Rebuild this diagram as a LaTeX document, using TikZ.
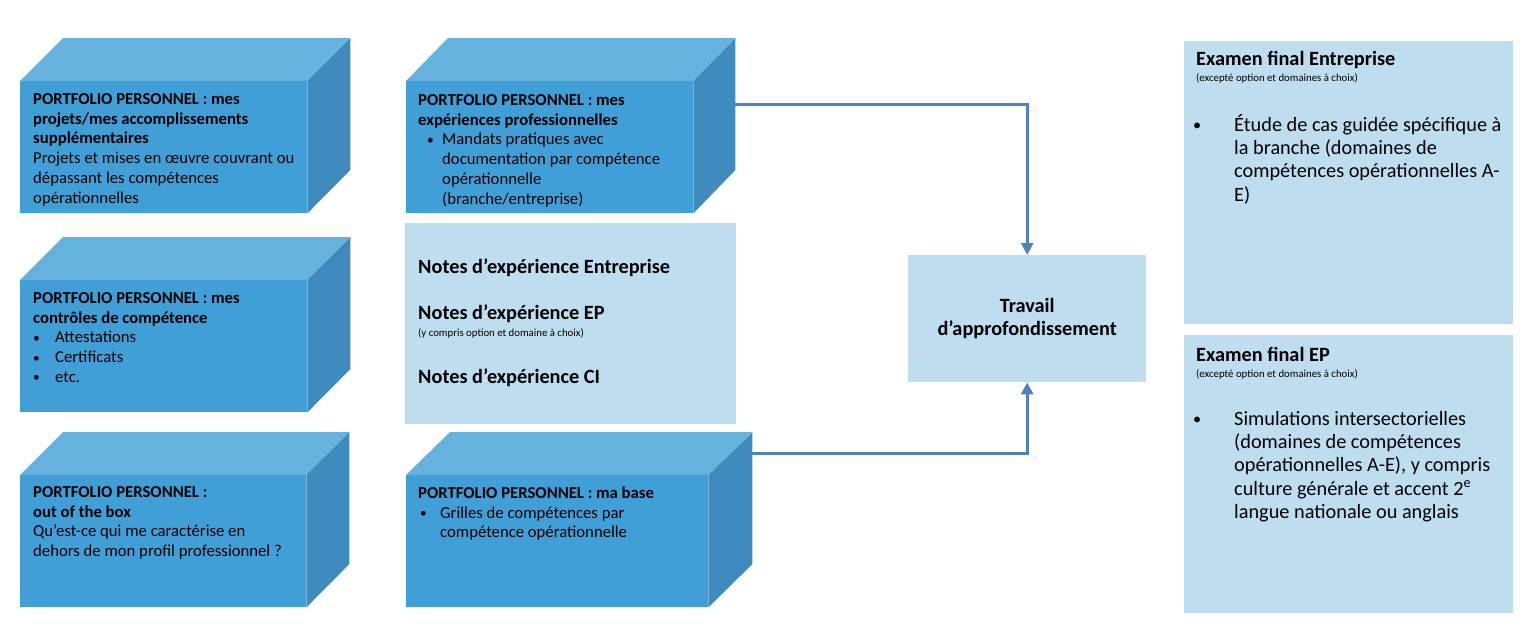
\documentclass[tikz,border=0pt]{standalone}
\usepackage{fontspec}
\usepackage{graphicx}
\setmainfont{Carlito}
\usetikzlibrary{arrows.meta}
\definecolor{frontc}{RGB}{64,159,214}
\definecolor{topc}{RGB}{102,178,222}
\definecolor{sidec}{RGB}{64,139,189}
\definecolor{lightc}{RGB}{190,222,240}
\definecolor{arrc}{RGB}{79,129,189}
\tikzset{
  front/.style={fill=frontc, draw=none, inner sep=0, anchor=north west},
  lightbox/.style={fill=lightc, draw=none, inner sep=0, anchor=north west},
  boxtext/.style={anchor=north west, inner sep=0, align=left, font=\fontsize{16.7}{19.8}\selectfont},
  head/.style={anchor=base west, inner sep=0, font=\fontsize{20.3}{23}\selectfont\bfseries},
  smalltext/.style={anchor=base west, inner sep=0, font=\fontsize{10.8}{12}\selectfont},
  bigtext/.style={anchor=north west, inner sep=0, align=left, font=\fontsize{20.3}{23.3}\selectfont},
  conn/.style={draw=arrc, line width=3pt, -{Triangle[length=12pt,width=12pt]}},
}
\newcommand{\cube}[4]{% name, dx, w, h
  \fill[topc] (#1.north west) -- ++(#2,-43) -- ++(#3,0) -- (#1.north east) -- cycle;
  \fill[sidec] (#1.north east) -- ++(#2,-43) -- ++(0,#4) -- (#1.south east) -- cycle;
}
\newcommand{\bul}[1]{\makebox[#1][l]{\raisebox{0.6pt}{\scalebox{0.8}{•}}}}
\newcommand{\fs}{\rule{0pt}{14pt}}
\newcommand{\fb}{\rule{0pt}{19pt}}
\begin{document}
\begin{tikzpicture}[x=1pt,y=-1pt]
\useasboundingbox (0,0) rectangle (1534,640);
% left column
\node[front, minimum width=287pt, minimum height=132pt] (b1) at (20,81) {};
\cube{b1}{43}{287}{132}
\node[front, minimum width=287pt, minimum height=132pt] (b2) at (20,280) {};
\cube{b2}{43}{287}{132}
\node[front, minimum width=286pt, minimum height=132pt] (b3) at (20,475) {};
\cube{b3}{43}{286}{132}
% middle column
\node[front, minimum width=287pt, minimum height=132pt] (b4) at (406,81) {};
\cube{b4}{42}{287}{132}
\node[front, minimum width=302pt, minimum height=132pt] (b5) at (406,475) {};
\cube{b5}{44}{302}{132}
\node[lightbox, minimum width=331pt, minimum height=201pt] (notes) at (405,223) {};
% right
\node[lightbox, minimum width=238pt, minimum height=127pt] (trav) at (908,255) {};
\node[lightbox, minimum width=329pt, minimum height=283pt] (ex1) at (1184,41) {};
\node[lightbox, minimum width=329pt, minimum height=278pt] (ex2) at (1184,335) {};

% texts
\node[boxtext] (t1) at (33,90) {\fs\textbf{PORTFOLIO PERSONNEL : mes}\\\textbf{projets/mes accomplissements}\\\textbf{supplémentaires}\\Projets et mises en œuvre couvrant ou\\dépassant les compétences\\opérationnelles};
\node[boxtext] (t2) at (33,289) {\fs\textbf{PORTFOLIO PERSONNEL : mes}\\\textbf{contrôles de compétence}\\\bul{22pt}Attestations\\\bul{22pt}Certificats\\\bul{22pt}etc.};
\node[boxtext] (t3) at (33,483) {\fs\textbf{PORTFOLIO PERSONNEL :}\\\textbf{out of the box}\\Qu’est-ce qui me caractérise en\\dehors de mon profil professionnel ?};
\node[boxtext] (t4) at (418,91) {\fs\textbf{PORTFOLIO PERSONNEL : mes}\\\textbf{expériences professionnelles}\\\hspace*{9pt}\bul{15pt}Mandats pratiques avec\\\hspace*{24pt}documentation par compétence\\\hspace*{24pt}opérationnelle\\\hspace*{24pt}(branche/entreprise)};
\node[boxtext] (t5) at (418,484) {\fs\textbf{PORTFOLIO PERSONNEL : ma base}\\\hspace*{2pt}\bul{20pt}Grilles de compétences par\\\hspace*{22pt}compétence opérationnelle};

\node[head] (n1) at (418,273) {Notes d’expérience Entreprise};
\node[head] (n2) at (418,319) {Notes d’expérience EP};
\node[smalltext] (n2s) at (418,336) {(y compris option et domaine à choix)};
\node[head] (n3) at (418,383) {Notes d’expérience CI};

\node[inner sep=0, align=center, font=\fontsize{20.3}{23.5}\selectfont\bfseries] (tt) at (trav.center) {Travail\\d’approfondissement};

\node[head] (e1h) at (1196,65) {Examen final Entreprise};
\node[smalltext] (e1s) at (1196,81) {(excepté option et domaines à choix)};
\node[bigtext] (e1t) at (1193,112) {\fb\bul{41pt}Étude de cas guidée spécifique à\\\hspace*{41pt}la branche (domaines de\\\hspace*{41pt}compétences opérationnelles A-\\\hspace*{41pt}E)};

\node[head] (e2h) at (1196,361) {Examen final EP};
\node[smalltext] (e2s) at (1196,377) {(excepté option et domaines à choix)};
\node[bigtext] (e2t) at (1193,406) {\fb\bul{41pt}Simulations intersectorielles\\\hspace*{41pt}(domaines de compétences\\\hspace*{41pt}opérationnelles A-E), y compris\\\hspace*{41pt}culture générale et accent 2\textsuperscript{e}\\\hspace*{41pt}langue nationale ou anglais};

% connectors
\coordinate (s1) at ([xshift=42pt,yshift=-23pt]b4.north east);
\coordinate (s2) at ([xshift=44pt,yshift=22pt]b5.north east);
\draw[conn] (s1) -| (trav.north);
\draw[conn] (s2) -| (trav.south);
\end{tikzpicture}
\end{document}
